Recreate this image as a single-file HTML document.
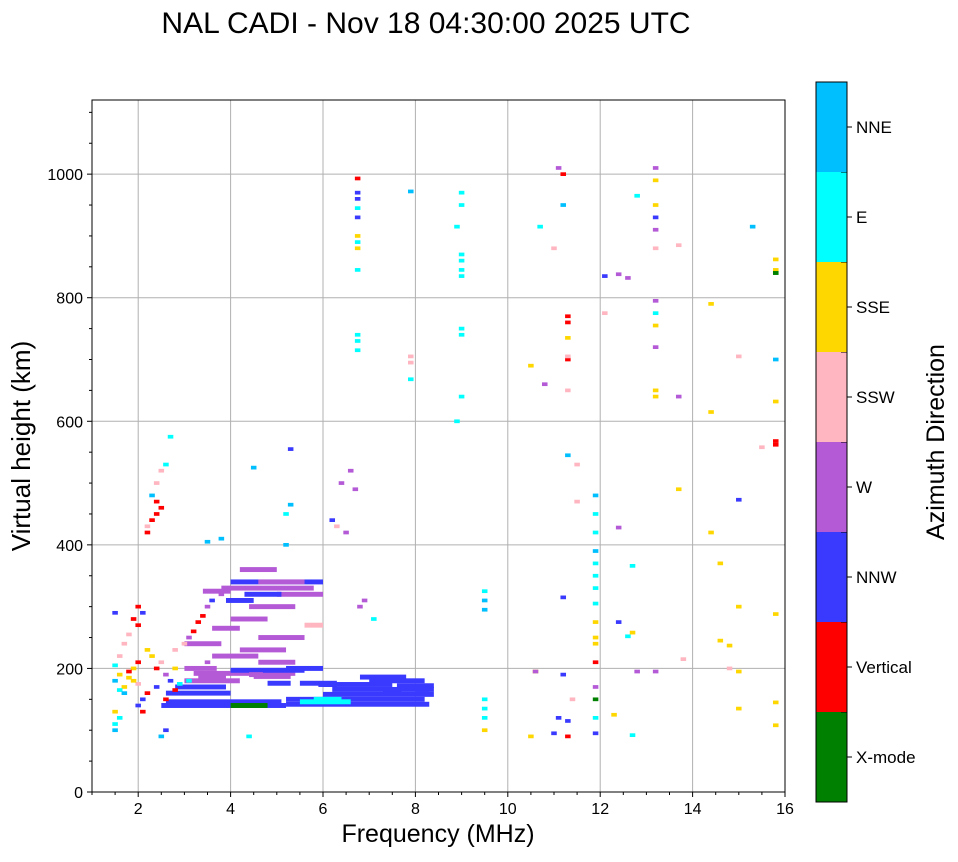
<!DOCTYPE html>
<html><head><meta charset="utf-8"><style>
body{margin:0;background:#fff;font-family:"Liberation Sans",sans-serif}
svg text{font-family:"Liberation Sans",sans-serif}
</style></head><body>
<svg id="chart" width="958" height="857" xmlns="http://www.w3.org/2000/svg">
<text x="426" y="33" font-size="30" text-anchor="middle">NAL CADI - Nov 18 04:30:00 2025 UTC</text>
<g id="grid"></g>
<g id="marks"></g>
<rect x="92" y="100" width="693" height="692" fill="none" stroke="#000" stroke-width="1"/>
<g id="axes"></g>
<text x="438" y="842" font-size="25" text-anchor="middle">Frequency (MHz)</text>
<text x="30" y="446" font-size="26" text-anchor="middle" transform="rotate(-90 30 446)">Virtual height (km)</text>
<g id="cbar"></g>
<text x="944" y="442" font-size="25" text-anchor="middle" transform="rotate(-90 944 442)">Azimuth Direction</text>
</svg>
<script>
const dirNames=["X-mode","Vertical","NNW","W","SSW","SSE","E","NNE"];
const dirColors=["#008000","#ff0000","#3a3aff","#b45ad6","#ffb6c1","#ffd700","#00ffff","#00bfff"];
const xTicks=[2,4,6,8,10,12,14,16];
const yTicks=[0,200,400,600,800,1000];
// segments: start freq, end freq, height, direction index
const segF0=[2.5,2.6,4.0,5.2,5.2,6.0,6.2,6.0,7.0,6.8,2.6,2.8,3.0,3.2,4.0,5.2,3.8,4.0,4.2,3.4,5.0,4.4,4.0,3.6,4.6,4.2,3.6,4.6,3.0,5.6,4.4,7.6,8.0,5.8,3.0,5.5,3.3,4.6,3.9,5.9,7.3,4.3,5.5,4.5,4.8];
const segF1=[5.2,5.1,4.8,8.3,8.2,8.4,8.3,7.5,8.2,7.8,4.0,3.9,4.2,5.4,5.6,6.0,5.8,6.0,5.0,4.0,6.0,5.4,4.8,4.2,5.6,5.2,4.6,5.4,3.8,6.0,4.7,8.4,8.4,6.4,3.7,6.3,3.9,5.6,4.5,6.3,7.7,5.1,6.6,5.3,5.3];
const segH=[140,146,140,142,150,158,166,174,180,186,160,170,180,192,197,200,330,340,360,325,320,300,280,265,250,230,220,210,240,270,190,172,166,150,200,176,186,340,310,174,160,320,146,187,176];
const segD=[2,2,0,2,2,2,2,2,2,2,2,2,3,3,2,2,3,2,3,3,3,3,3,3,3,3,3,3,3,4,3,2,2,6,3,2,3,3,2,2,2,2,6,3,2];
// scattered points: freq, height, direction
const ptF=[1.5,1.5,1.6,1.7,1.8,1.9,2.0,1.6,1.7,1.8,1.9,2.0,2.1,1.5,1.6,1.7,1.8,2.0,2.1,1.9,2.0,2.2,2.3,2.4,2.5,2.6,2.7,2.8,3.0,3.1,3.2,3.3,3.4,3.5,3.6,3.8,2.2,2.3,2.4,2.5,2.3,2.4,2.2,2.4,2.5,2.6,2.7,2.0,2.1,2.2,2.4,2.6,2.8,2.9,3.1,3.3,3.5,2.6,2.8,1.5,1.5,1.6,1.5,
6.75,6.75,6.75,6.75,6.75,6.75,6.75,6.75,6.75,6.75,6.75,6.75,
9.0,9.0,9.0,9.0,9.0,9.0,9.0,9.0,9.0,8.9,8.9,9.5,9.5,9.5,9.5,9.5,9.5,9.5,7.9,7.9,7.9,7.9,
10.5,10.6,10.8,11.0,11.1,11.2,11.3,11.3,11.3,11.3,11.3,11.3,11.4,11.5,11.5,11.2,11.2,11.3,11.0,11.2,10.7,10.5,10.6,11.3,11.3,11.1,
11.9,11.9,11.9,11.9,11.9,11.9,11.9,11.9,11.9,11.9,11.9,11.9,11.9,11.9,11.9,11.9,12.1,12.1,12.4,12.4,12.4,12.6,12.6,12.7,12.7,12.7,12.3,12.8,12.8,
13.2,13.2,13.2,13.2,13.2,13.2,13.2,13.2,13.2,13.2,13.2,13.2,13.2,13.7,13.7,13.7,13.8,14.4,14.4,14.4,14.6,14.6,14.8,14.8,15.0,15.0,15.0,15.0,15.0,15.3,15.5,15.8,15.8,15.8,15.8,15.8,15.8,15.8,15.8,15.8,15.8,15.8,6.4,6.6,6.7,6.5,6.3,6.2,5.3,5.3,5.2,5.2,3.5,3.8,4.5,2.5,4.4,6.8,6.9,7.1];
const ptH=[100,110,190,170,185,200,175,165,160,195,180,210,150,205,220,240,255,270,290,280,300,230,220,200,210,190,180,230,240,250,260,275,285,300,310,320,420,440,450,460,480,500,430,470,520,530,575,140,130,160,170,150,165,175,180,200,210,100,200,290,180,120,130,
730,715,740,845,890,900,930,945,960,970,993,880,
970,950,870,860,845,835,750,740,640,600,915,325,310,295,150,135,120,100,972,705,695,668,
690,195,660,95,1010,1000,770,760,700,650,115,90,150,530,470,190,315,545,880,950,915,90,195,705,735,120,
480,450,420,390,370,350,330,305,275,250,240,210,170,150,120,95,835,775,838,428,275,832,252,366,92,258,125,195,965,
1010,990,950,930,910,880,795,775,755,720,650,640,195,885,640,490,215,790,615,420,370,245,237,200,300,195,135,473,705,915,558,862,845,840,700,632,568,562,288,145,108,840,
500,520,490,420,430,440,555,465,450,400,405,410,525,90,90,300,310,280];
const ptD=[7,6,5,5,5,5,4,6,7,1,5,1,2,6,4,4,4,1,2,1,1,5,5,1,4,3,2,4,4,3,1,1,1,3,2,3,1,1,1,1,7,4,4,1,4,6,6,2,1,1,2,1,1,6,6,3,3,2,5,2,7,6,5,
6,6,6,6,6,5,2,6,2,2,1,5,
6,6,6,6,6,6,6,6,6,6,6,6,7,7,6,6,6,5,7,4,4,6,
5,5,3,2,3,1,1,1,1,4,2,1,4,4,4,2,2,7,4,7,6,5,3,4,5,2,
7,6,6,7,6,6,6,6,5,5,5,1,3,0,6,2,2,4,3,3,2,3,6,6,6,5,5,3,6,
3,5,5,2,3,4,3,6,5,3,5,5,3,4,3,5,4,5,5,5,5,5,5,4,5,5,5,2,4,7,4,5,5,0,7,5,1,1,5,5,5,0,
3,3,3,3,4,2,2,7,6,7,7,7,7,7,6,3,3,6];
const NS="http://www.w3.org/2000/svg";
const X0=92,X1=785,Y0=792,Y1=100;
const xs=f=>X0+(f-1)/15*(X1-X0);
const ys=h=>Y0-h/1120*(Y0-Y1);
function mk(tag,attrs,parent){const e=document.createElementNS(NS,tag);for(const k in attrs)e.setAttribute(k,attrs[k]);parent.appendChild(e);return e;}
const grid=document.getElementById('grid'),axes=document.getElementById('axes'),marks=document.getElementById('marks'),cbar=document.getElementById('cbar');
xTicks.forEach(t=>{const x=xs(t);
 const l=mk('line',{x1:x,x2:x,y1:Y1,y2:Y0,stroke:'#b0b0b0','stroke-width':1},grid);
 
 mk('line',{x1:x,x2:x,y1:Y0,y2:Y0+5,stroke:'#000'},axes);
 const tx=mk('text',{x:x,y:Y0+22,'font-size':16,'text-anchor':'middle'},axes);tx.textContent=t;
 });
for(let f=1;f<=16;f+=0.5){if(f%2)mk('line',{x1:xs(f),x2:xs(f),y1:Y0,y2:Y0+3,stroke:'#000'},axes);}
yTicks.forEach(t=>{const y=ys(t);
 const l=mk('line',{x1:X0,x2:X1,y1:y,y2:y,stroke:'#b0b0b0','stroke-width':1},grid);
 
 mk('line',{x1:X0-5,x2:X0,y1:y,y2:y,stroke:'#000'},axes);
 const tx=mk('text',{x:X0-9,y:y+6,'font-size':16,'text-anchor':'end'},axes);tx.textContent=t;
 });
for(let h=50;h<1120;h+=50){if(h%200)mk('line',{x1:X0-3,x2:X0,y1:ys(h),y2:ys(h),stroke:'#000'},axes);}
segF0.forEach((f0,i)=>{const r=mk('rect',{x:xs(f0),y:ys(segH[i]+4),width:xs(segF1[i])-xs(f0),height:ys(0)-ys(8),fill:dirColors[segD[i]]},marks);
 });
ptF.forEach((f,i)=>{const r=mk('rect',{x:xs(f-0.06),y:ys(ptH[i]+3),width:xs(1.12)-xs(1),height:ys(0)-ys(6),fill:dirColors[ptD[i]]},marks);
 });
const cbX=816,cbW=31,cbTop=82,cbH=720,seg=cbH/dirNames.length;
dirNames.forEach((n,i)=>{const y=cbTop+cbH-(i+1)*seg;
 const r=mk('rect',{x:cbX,y:y,width:cbW,height:seg,fill:dirColors[i]},cbar);
 
 mk('line',{x1:cbX+cbW,x2:cbX+cbW+5,y1:y+seg/2,y2:y+seg/2,stroke:'#000'},cbar);
 mk('line',{x1:cbX+cbW-6,x2:cbX+cbW,y1:y,y2:y,stroke:'#000'},cbar);
 const t=mk('text',{x:cbX+cbW+9,y:y+seg/2+6,'font-size':17},cbar);t.textContent=n;
 });
mk('rect',{x:cbX,y:cbTop,width:cbW,height:cbH,fill:'none',stroke:'#000'},cbar);
</script>
</body></html>
